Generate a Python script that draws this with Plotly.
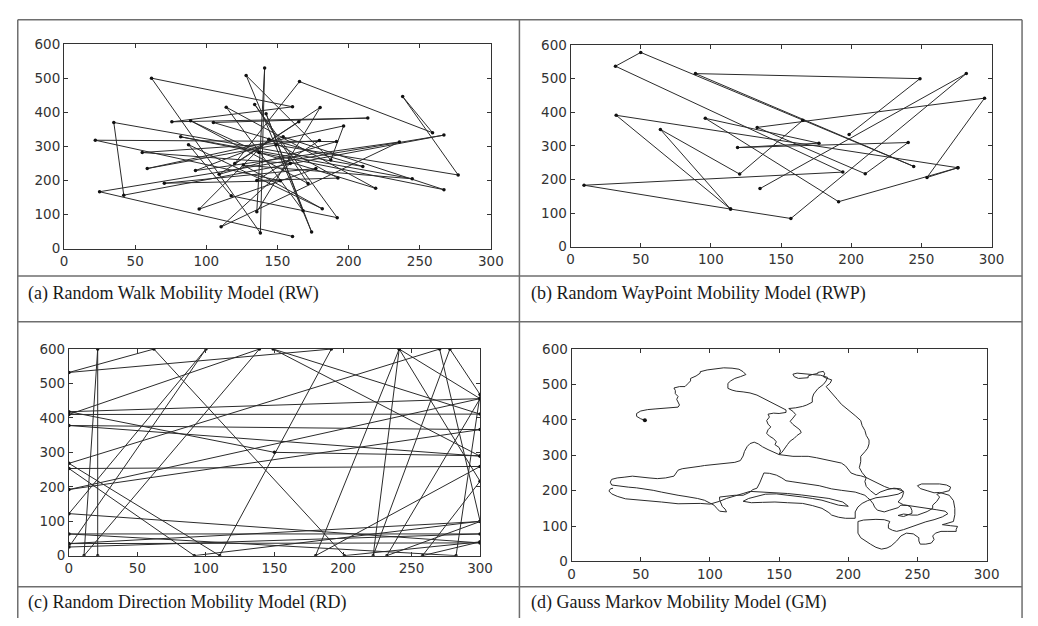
import plotly.graph_objects as go

W, H = 1038, 626

# ---------------- (a) Random Walk ----------------
rw_x = [160.6, 25, 267, 42, 35, 210, 105, 213.5, 75.8, 160.6, 61.5, 138, 141, 135.5, 180, 120,
        165.5, 259, 238, 277, 149, 58.5, 196.5, 187.5, 128, 174, 142, 168, 114, 219, 137, 89,
        171.5, 134, 192, 117.5, 87.5, 181.5, 126, 244.7, 82, 267, 154, 92.4, 235.7, 110.4, 159,
        55, 179.5, 135.5, 192.5, 144, 95, 177, 70.5, 152, 22, 191.5, 109, 165]
rw_y = [36, 167, 333, 157, 370, 241, 370, 383, 372, 416, 500, 46, 530, 108, 414, 250,
        490, 340, 446, 216, 304, 235, 360, 260, 508, 49, 396, 111, 415, 177, 282, 375,
        191, 423, 91, 155, 305, 117, 245, 205, 328, 173, 328, 229, 313, 64, 250,
        282, 317, 200, 207, 321, 116, 235, 192, 199, 318, 314, 218, 372]

# ---------------- (b) Random WayPoint ----------------
rwp_x = [198.5, 249, 89, 244.5, 50, 32, 194, 9.6, 114, 157, 282, 135, None,
         165.5, 120.5, 64, 114, 32.5, 276, 254, 295, 133, 210, 240.6, 119, 177, 96, 191, 276]
rwp_y = [334, 500, 515, 239, 578, 537, 222, 183, 112, 84, 515, 173, None,
         376, 216, 349, 112, 391, 235, 206, 442, 355, 217, 310, 295, 308, 382, 134, 235]

# ---------------- (c) Random Direction ----------------
rd_x = [21, 21, 11, 139, 0, 300, 149, 300, 0, 300, 0, 300, 232, 300, 0, 300, 0, 100, 0, 300,
        0, 282.5, 300, 278, 222, 241, 300, 258, 300, 201, 62, 0, 191.5, 110, 0, 270.5, 300,
        91.5, 0, 300, 180, 241, 300, 0, 150, 300]
rd_y = [0, 600, 0, 600, 410, 411, 600, 289, 378, 366, 192, 456, 0, 99, 35, 37, 122, 600, 25, 63,
        63, 0, 468, 600, 0, 600, 216, 0, 40, 0, 600, 532, 600, 0, 268, 600, 100,
        0, 253, 259, 0, 600, 456, 418, 300, 290]

# ---------------- (d) Gauss Markov (traced path, x/y pairs) ----------------
gm_top_left = [(53, 399), (50, 403), (47, 410), (47, 418), (50, 425), (55, 429), (61, 431), (66, 432),
               (72, 434), (77, 436), (78, 442), (77, 450), (76, 458), (77, 466), (75, 474), (75, 483),
               (74, 490), (78, 494), (82, 494), (84, 502), (86, 510), (86, 517), (90, 524), (93, 532),
               (93, 536), (98, 541), (104, 545), (110, 547), (116, 546), (121, 543), (124, 536),
               (126, 528), (122, 522), (118, 517), (115, 510), (113, 503), (113, 496), (113, 489),
               (116, 484), (119, 481), (124, 479), (129, 476), (134, 470), (138, 462), (142, 455),
               (145, 448), (149, 442), (152, 436), (155, 428), (155, 421)]
gm_left_wiggle = [(150, 418), (146, 419), (142, 416), (143, 408), (141, 398), (142, 388), (144, 380),
                  (142, 372), (141, 362), (143, 354), (146, 347), (148, 338), (147, 330), (150, 322),
                  (151, 312), (150, 302)]
gm_left_lobe = [(146, 308), (142, 316), (138, 324), (135, 332), (132, 337), (129, 333), (127, 325),
                (125, 311), (124, 298), (122, 285), (118, 280), (112, 278), (106, 276), (100, 274),
                (96, 271), (93, 269), (86, 266), (80, 262), (77, 258), (75, 248), (74, 241), (68, 236),
                (62, 234), (56, 236), (50, 238), (44, 241), (38, 238), (33, 236), (29, 232), (28, 224),
                (29, 216), (32, 214), (37, 212), (41, 210), (47, 208), (53, 205), (59, 201), (65, 196),
                (71, 191), (77, 187), (82, 184), (86, 182), (91, 178), (96, 173), (100, 166), (103, 159),
                (105, 150), (107, 142), (112, 140), (111, 148), (109, 155), (108, 164), (107, 174),
                (107, 182), (112, 185), (118, 187), (124, 187), (129, 196), (131, 203), (134, 207),
                (136, 222), (138, 238), (139, 250), (143, 249), (148, 244), (152, 236), (155, 228),
                (160, 225), (164, 223), (172, 218), (179, 214), (184, 209), (188, 205), (195, 201),
                (200, 198), (205, 196), (209, 191), (212, 187), (214, 180), (216, 173), (218, 163),
                (219, 154), (221, 145)]
gm_tangle = [(226, 140), (230, 145), (236, 152), (238, 159), (243, 158), (245, 154), (246, 144),
             (246, 136), (240, 127), (236, 130), (240, 134), (246, 131), (250, 131), (257, 141),
             (261, 150), (261, 159), (264, 170), (266, 182), (264, 190), (268, 195), (273, 200),
             (274, 210), (271, 216), (266, 219), (260, 219), (253, 219), (250, 214), (252, 206),
             (257, 200), (262, 194), (266, 195), (273, 187), (276, 172), (277, 150), (277, 132),
             (276, 113), (270, 106), (268, 104), (274, 101), (279, 99), (278, 91), (278, 85),
             (272, 85), (267, 85), (263, 80), (261, 72), (262, 62), (260, 52), (256, 49), (252, 49),
             (251, 58), (251, 67), (247, 78), (242, 80), (238, 72), (235, 58), (231, 44), (228, 38),
             (224, 35), (220, 40), (216, 49), (212, 58), (209, 67), (207, 80), (207, 94), (207, 105),
             (207, 113), (211, 117), (214, 118), (220, 119), (226, 118), (230, 113), (229, 104),
             (229, 94), (232, 88), (235, 85), (240, 90), (244, 96), (250, 104), (256, 112),
             (262, 118), (268, 126), (272, 135), (270, 142), (264, 146), (256, 150), (248, 154),
             (240, 160), (236, 168), (239, 182), (240, 195), (238, 205), (233, 207), (228, 203),
             (223, 196), (220, 188)]
gm_right_climb = [(216, 200), (213, 212), (212, 226), (213, 237), (210, 251), (208, 265), (209, 282),
                  (209, 297), (212, 310), (214, 320), (215, 332), (215, 343), (213, 356), (212, 370),
                  (210, 384), (209, 398), (205, 412), (200, 428), (195, 444), (192, 458), (189, 471),
                  (186, 484), (184, 494), (187, 504), (188, 513), (184, 518), (182, 522), (183, 530),
                  (182, 537), (178, 534), (178, 531), (174, 528), (171, 524), (171, 519), (166, 518),
                  (164, 517), (161, 522), (160, 529), (163, 532), (168, 531), (174, 528), (180, 526),
                  (185, 520), (184, 510), (182, 500), (178, 488), (175, 473), (174, 462), (174, 450),
                  (170, 442), (167, 438), (162, 434), (157, 432)]
gm_right_wiggle = [(160, 424), (162, 415), (160, 405), (158, 396), (160, 387), (162, 380), (165, 372),
                   (166, 364), (163, 356), (161, 348), (158, 340), (156, 330), (154, 318), (152, 308),
                   (150, 302)]
gm_return = [(155, 299), (160, 297), (166, 297), (171, 297), (177, 293), (183, 288), (189, 283),
             (195, 278), (198, 270), (200, 260), (202, 250), (206, 244), (209, 242), (213, 237),
             (217, 229), (221, 223), (226, 212), (230, 206), (235, 205), (240, 198), (236, 190),
             (228, 184), (220, 180), (214, 172), (210, 164), (207, 154), (205, 140), (205, 122),
             (198, 122), (193, 125), (188, 131), (186, 138), (181, 150), (174, 158), (167, 164),
             (156, 166), (147, 168), (138, 167), (130, 166), (124, 170), (128, 178), (134, 184),
             (140, 190), (148, 191), (158, 187), (167, 182), (174, 178), (181, 173), (187, 166),
             (193, 159), (200, 156), (196, 168), (186, 178), (176, 184), (166, 188), (156, 192),
             (146, 195), (138, 196), (129, 198), (124, 192), (118, 186), (112, 178), (107, 170),
             (100, 162), (93, 164), (85, 164), (77, 163), (65, 168), (53, 173), (46, 175), (39, 177),
             (33, 184), (29, 191), (27, 199), (28, 205), (30, 207)]

gm_path = gm_top_left + gm_left_wiggle + gm_left_lobe + gm_tangle + gm_right_climb + gm_right_wiggle + gm_return
gm_x = [p[0] for p in gm_path]
gm_y = [p[1] for p in gm_path]

# -------- axes ticks --------
x_ticks = [0, 50, 100, 150, 200, 250, 300]
y_ticks = [0, 100, 200, 300, 400, 500, 600]

captions = ["(a) Random Walk Mobility Model (RW)",
            "(b) Random WayPoint Mobility Model (RWP)",
            "(c) Random Direction Mobility Model (RD)",
            "(d) Gauss Markov Mobility Model (GM)"]

fig = go.Figure()

def px_x(p):
    return p / W

def px_y(p):
    return 1 - p / H

# pixel boxes of each plot area: (left, right, top, bottom)
boxes = [(61, 495, 37, 247), (576, 1004, 38, 245), (66, 484, 350, 562), (577, 999, 350, 568)]
data = [(rw_x, rw_y, True), (rwp_x, rwp_y, True), (rd_x, rd_y, True), (gm_x, gm_y, False)]

line_col = "#2b2b2b"
for i, ((l, r, t, b), (xs, ys, mk)) in enumerate(zip(boxes, data)):
    sfx = "" if i == 0 else str(i + 1)
    fig.add_trace(go.Scatter(
        x=xs, y=ys, mode="lines+markers" if mk else "lines",
        line=dict(color=line_col, width=1),
        marker=dict(size=3.5, color="#111"),
        xaxis="x" + sfx, yaxis="y" + sfx, showlegend=False, hoverinfo="skip",
        connectgaps=False))
    axcommon = dict(showgrid=False, zeroline=False, showline=True, linecolor="#333", linewidth=1,
                    mirror="allticks", ticks="inside", ticklen=4, tickcolor="#333",
                    tickfont=dict(family="DejaVu Sans, Verdana, sans-serif", size=13.5, color="#333"))
    fig.layout["xaxis" + sfx] = dict(domain=[px_x(l), px_x(r)], range=[0, 300], tickvals=x_ticks,
                                     anchor="y" + sfx, **axcommon)
    fig.layout["yaxis" + sfx] = dict(domain=[px_y(b), px_y(t)], range=[0, 600], tickvals=y_ticks,
                                     anchor="x" + sfx, **axcommon)

# start dot for GM
fig.add_trace(go.Scatter(x=gm_x[:1], y=gm_y[:1], mode="markers", marker=dict(size=4, color="#111"),
                         xaxis="x4", yaxis="y4", showlegend=False, hoverinfo="skip"))

# table borders
border = dict(color="#6e6e6e", width=1.5)
shape_lines = [
    (14, 12, 1035, 12), (14, 12, 14, 626), (1035, 12, 1035, 626), (524, 12, 524, 626),
    (14, 275, 1035, 275), (14, 322, 1035, 322), (14, 594, 1035, 594),
]
for x0, y0, x1, y1 in shape_lines:
    fig.add_shape(type="line", xref="paper", yref="paper", x0=px_x(x0), y0=px_y(y0),
                  x1=px_x(x1), y1=px_y(y1), line=border)

cap_pos = [(22, 293), (534, 293), (22, 610), (534, 610)]
for (cx, cy), txt in zip(cap_pos, captions):
    fig.add_annotation(text=txt, xref="paper", yref="paper", x=px_x(cx), y=px_y(cy),
                       xanchor="left", yanchor="middle", showarrow=False,
                       font=dict(family="Liberation Serif, serif", size=18, color="#1a1a1a"))

fig.update_layout(width=W, height=H, margin=dict(l=0, r=0, t=0, b=0),
                  paper_bgcolor="white", plot_bgcolor="white")
fig.write_html("out.html", config={"displayModeBar": False},
               post_script="document.body.style.margin='0px';document.body.style.overflow='hidden';")
